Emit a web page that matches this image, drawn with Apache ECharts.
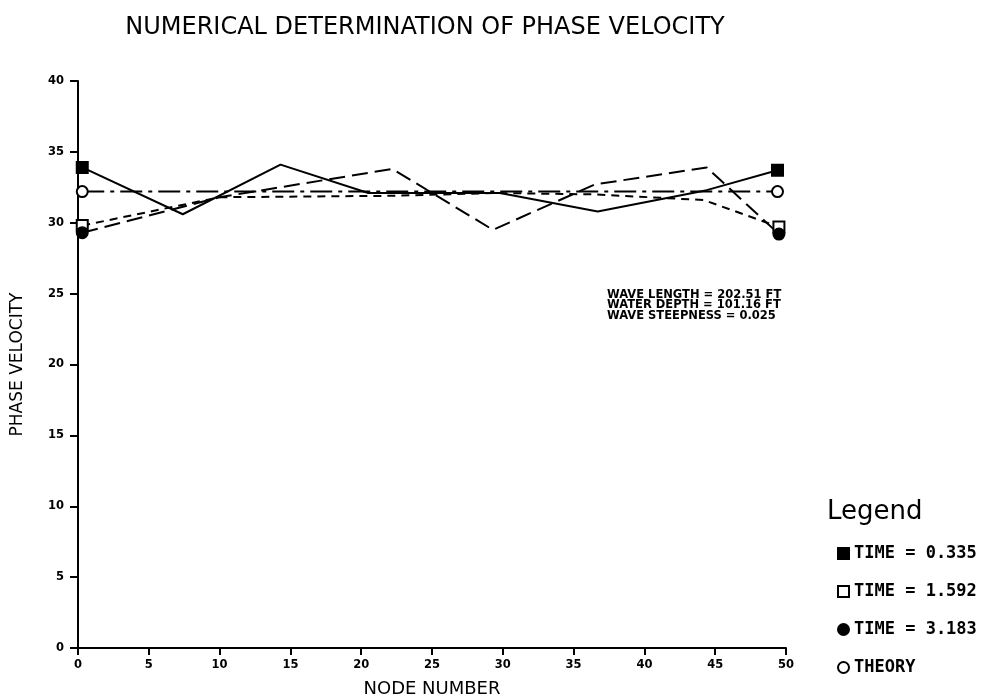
<!DOCTYPE html>
<html>
<head>
<meta charset="utf-8">
<script src="https://cdn.jsdelivr.net/npm/echarts@6/dist/echarts.min.js"></script>
<style>html,body{margin:0;padding:0;background:#fff}#c{width:989px;height:697px}</style>
</head>
<body>
<div id="c"></div>
<script>
// ---- data ----
const chartTitle = 'NUMERICAL DETERMINATION OF PHASE VELOCITY';
const xName = 'NODE NUMBER';
const yName = 'PHASE VELOCITY';
const seriesNames = ['TIME = 0.335', 'TIME = 1.592', 'TIME = 3.183', 'THEORY'];
const t0335Nodes = [0.3, 7.4, 14.3, 20.5, 29.8, 36.7, 44.4, 49.4];
const t0335Vals  = [33.9, 30.6, 34.1, 32.1, 32.1, 30.8, 32.3, 33.7];
const t1592Nodes = [0.3, 10.0, 22.0, 29.5, 36.5, 44.2, 49.5];
const t1592Vals  = [29.8, 31.8, 31.9, 32.1, 32.0, 31.6, 29.7];
const t3183Nodes = [0.3, 10.0, 22.2, 29.3, 36.5, 44.4, 49.5];
const t3183Vals  = [29.3, 31.8, 33.8, 29.5, 32.7, 33.9, 29.2];
const theoryNodes = [0.3, 49.4];
const theoryVals  = [32.2, 32.2];
const noteLines = ['WAVE LENGTH = 202.51 FT', 'WATER DEPTH = 101.16 FT', 'WAVE STEEPNESS = 0.025'];

const pairs = (xs, ys) => xs.map((x, i) => [x, ys[i]]);

function mkSeries(name, xs, ys, shape, fill, dash, width) {
  const n = xs.length;
  return {
    name, type: 'line', data: pairs(xs, ys),
    symbol: (v, p) => (p.dataIndex === 0 || p.dataIndex === n - 1) ? shape : 'none',
    symbolSize: 11,
    showSymbol: true,
    itemStyle: { color: fill, borderColor: '#000', borderWidth: 2 },
    lineStyle: { color: '#000', width: width, type: dash },
    emphasis: { disabled: true },
    animation: false
  };
}

const chart = echarts.init(document.getElementById('c'), null, { renderer: 'canvas' });
const tickFont = { fontFamily: 'DejaVu Sans', fontWeight: 'bold', fontSize: 11.5, color: '#000' };
chart.setOption({
  backgroundColor: '#fff',
  animation: false,
  title: [
    { text: chartTitle, left: 420, top: 11, textAlign: 'center',
      textStyle: { fontFamily: 'DejaVu Sans', fontWeight: 'normal', fontSize: 24, color: '#000' } },
    { text: 'Legend', left: 822, top: 494,
      textStyle: { fontFamily: 'DejaVu Sans', fontWeight: 'normal', fontSize: 26, color: '#000' } }
  ],
  grid: { left: 78, right: 203, top: 81, bottom: 49, containLabel: false, outerBoundsMode: 'none' },
  xAxis: {
    type: 'value', min: 0, max: 50, interval: 5,
    name: xName, nameLocation: 'middle', nameGap: 32,
    nameTextStyle: { fontFamily: 'DejaVu Sans', fontSize: 18, color: '#000' },
    axisLine: { lineStyle: { color: '#000', width: 2 } },
    axisTick: { length: 7, lineStyle: { color: '#000', width: 2 } },
    axisLabel: Object.assign({ margin: 11 }, tickFont),
    splitLine: { show: false }
  },
  yAxis: {
    type: 'value', min: 0, max: 40, interval: 5,
    name: yName, nameLocation: 'middle', nameGap: 52, nameRotate: 90,
    nameTextStyle: { fontFamily: 'DejaVu Sans', fontSize: 17, color: '#000' },
    axisLine: { show: true, lineStyle: { color: '#000', width: 2 } },
    axisTick: { show: true, length: 8, lineStyle: { color: '#000', width: 2 } },
    axisLabel: Object.assign({ margin: 14 }, tickFont),
    splitLine: { show: false }
  },
  legend: {
    orient: 'vertical', left: 832, top: 540, itemGap: 21, itemWidth: 11, itemHeight: 11,
    textStyle: { fontFamily: 'DejaVu Sans Mono', fontWeight: 'bold', fontSize: 17, color: '#000' },
    data: [
      { name: seriesNames[0], icon: 'rect' },
      { name: seriesNames[1], icon: 'rect' },
      { name: seriesNames[2], icon: 'circle' },
      { name: seriesNames[3], icon: 'circle' }
    ],
    selectedMode: false
  },
  graphic: [{
    type: 'text', left: 607, top: 289,
    style: { text: noteLines.join('\n'), fontFamily: 'DejaVu Sans', fontWeight: 'bold',
             fontSize: 11.5, lineHeight: 10.5, fill: '#000' }
  }],
  series: [
    mkSeries(seriesNames[0], t0335Nodes, t0335Vals, 'rect', '#000', 'solid', 2),
    mkSeries(seriesNames[1], t1592Nodes, t1592Vals, 'rect', '#fff', [8, 6], 2),
    mkSeries(seriesNames[2], t3183Nodes, t3183Vals, 'circle', '#000', [16, 7], 2),
    mkSeries(seriesNames[3], theoryNodes, theoryVals, 'circle', '#fff', [22, 6, 4, 6], 2)
  ]
});
</script>
</body>
</html>
